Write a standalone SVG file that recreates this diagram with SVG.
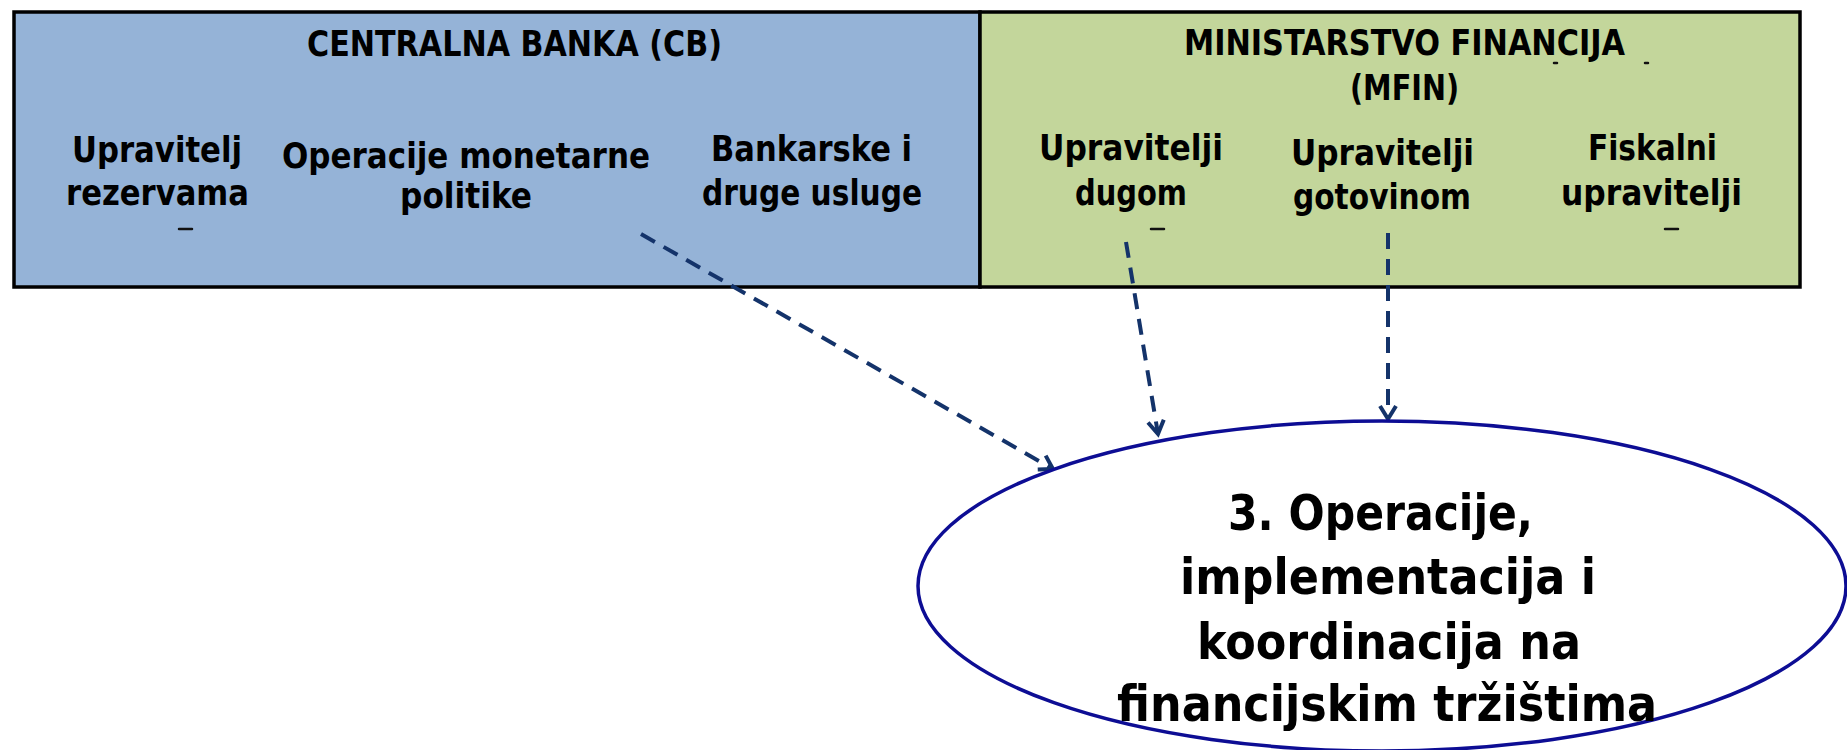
<svg xmlns="http://www.w3.org/2000/svg" width="1847" height="750" viewBox="0 0 1847 750">
<style>
.t{font-family:"DejaVu Sans Condensed","DejaVu Sans",sans-serif;font-weight:bold;fill:#000;}
.s{font-size:36px;}
.b{font-size:49px;}
.con{fill:none;stroke:#14336A;stroke-width:4;stroke-dasharray:16 10;marker-end:url(#arr);}
.mk{stroke:#111;stroke-width:2.5;stroke-linecap:round;}
</style>
<defs>
<marker id="arr" markerUnits="userSpaceOnUse" markerWidth="30" markerHeight="30" refX="0" refY="0" viewBox="-15 -15 30 30" orient="auto" overflow="visible">
<path d="M-13,-8 L0,0 L-13,8" fill="none" stroke="#14336A" stroke-width="4" stroke-linejoin="miter"/>
</marker>
</defs>
<rect width="1847" height="750" fill="#fff"/>
<g id="cb">
<rect x="14" y="12" width="966" height="275" fill="#95B3D7" stroke="#000" stroke-width="3.5"/>
<text class="t s" x="307" y="56" textLength="415" lengthAdjust="spacingAndGlyphs">CENTRALNA BANKA (CB)</text>
</g>
<g id="mfin">
<rect x="980" y="12" width="820" height="275" fill="#C3D69B" stroke="#000" stroke-width="3.5"/>
<text class="t s" x="1184" y="55" textLength="441" lengthAdjust="spacingAndGlyphs">MINISTARSTVO FINANCIJA</text>
<text class="t s" x="1350" y="100" textLength="109" lengthAdjust="spacingAndGlyphs">(MFIN)</text>
<line class="mk" x1="1554" y1="63" x2="1557" y2="63" stroke-width="1.5"/>
<line class="mk" x1="1645" y1="63" x2="1648" y2="63" stroke-width="1.5"/>
</g>
<g id="rezerve">
<text class="t s" x="72" y="162" textLength="170" lengthAdjust="spacingAndGlyphs">Upravitelj</text>
<text class="t s" x="66" y="205" textLength="183" lengthAdjust="spacingAndGlyphs">rezervama</text>
<line class="mk" x1="179" y1="229" x2="192" y2="229"/>
</g>
<g id="monetarna">
<text class="t s" x="282" y="168" textLength="368" lengthAdjust="spacingAndGlyphs">Operacije monetarne</text>
<text class="t s" x="400" y="208" textLength="132" lengthAdjust="spacingAndGlyphs">politike</text>
</g>
<g id="bankarske">
<text class="t s" x="711" y="161" textLength="201" lengthAdjust="spacingAndGlyphs">Bankarske i</text>
<text class="t s" x="702" y="205" textLength="220" lengthAdjust="spacingAndGlyphs">druge usluge</text>
</g>
<g id="dug">
<text class="t s" x="1039" y="160" textLength="184" lengthAdjust="spacingAndGlyphs">Upravitelji</text>
<text class="t s" x="1075" y="205" textLength="112" lengthAdjust="spacingAndGlyphs">dugom</text>
<line class="mk" x1="1151" y1="229" x2="1164" y2="229"/>
</g>
<g id="gotovina">
<text class="t s" x="1291" y="165" textLength="183" lengthAdjust="spacingAndGlyphs">Upravitelji</text>
<text class="t s" x="1293" y="209" textLength="178" lengthAdjust="spacingAndGlyphs">gotovinom</text>
</g>
<g id="fiskalni">
<text class="t s" x="1588" y="160" textLength="129" lengthAdjust="spacingAndGlyphs">Fiskalni</text>
<text class="t s" x="1561" y="205" textLength="181" lengthAdjust="spacingAndGlyphs">upravitelji</text>
<line class="mk" x1="1665" y1="229" x2="1678" y2="229"/>
</g>
<g id="connectors">
<line class="con" x1="641" y1="234" x2="1053" y2="469"/>
<line class="con" x1="1126" y1="242" x2="1158" y2="434"/>
<line class="con" x1="1388" y1="233" x2="1388" y2="419"/>
</g>
<g id="operacije">
<ellipse cx="1382" cy="586" rx="464" ry="165" fill="#fff" stroke="#0D0D94" stroke-width="3.5"/>
<text class="t b" x="1228" y="530" textLength="305" lengthAdjust="spacingAndGlyphs">3. Operacije,</text>
<text class="t b" x="1180" y="594" textLength="416" lengthAdjust="spacingAndGlyphs">implementacija i</text>
<text class="t b" x="1197" y="659" textLength="384" lengthAdjust="spacingAndGlyphs">koordinacija na</text>
<text class="t b" x="1117" y="721" textLength="540" lengthAdjust="spacingAndGlyphs">financijskim tržištima</text>
</g>
</svg>
